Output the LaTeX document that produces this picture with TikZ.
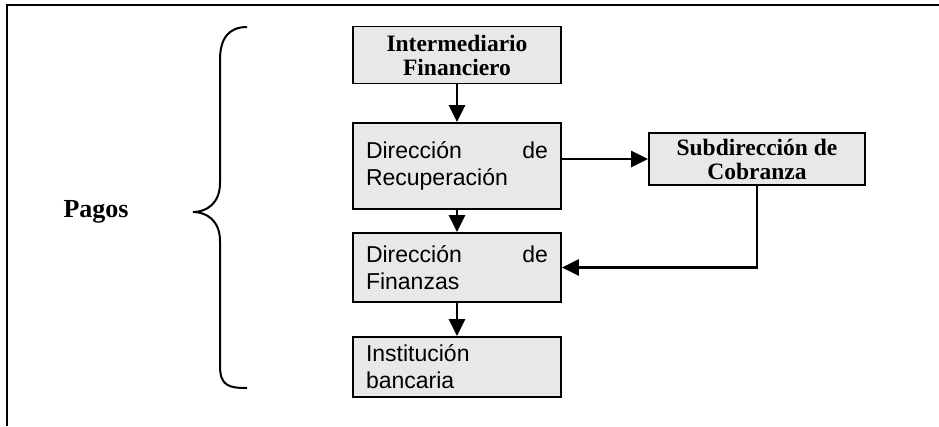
\documentclass[tikz,border=0pt]{standalone}
\usepackage{fontspec}
\setmainfont{Liberation Serif}
\setsansfont{Liberation Sans}
\usetikzlibrary{arrows.meta}
\tikzset{
  box/.style={draw=black, line width=1.8pt, fill=gray!18, inner sep=0pt, minimum width=#1},
  sbox/.style={box=208pt, font=\sffamily\fontsize{23}{27}\selectfont, text width=182pt, align=left},
  bbox/.style={font=\bfseries\fontsize{23.5}{24}\selectfont, align=center},
  arr/.style={line width=2.6pt, -{Triangle[length=17pt,width=16pt]}},
  frame/.style={line width=2pt}
}
\begin{document}
\begin{tikzpicture}[x=1pt,y=-1pt]
\useasboundingbox (0,0) rectangle (939,426);
\coordinate (fTR) at (939,5);
\coordinate (fTL) at (7,5);
\coordinate (fBL) at (7,426);
\draw[frame] (fTR) -- (fTL) -- (fBL);

\node[font=\bfseries\fontsize{26}{28}\selectfont] (pagos) at (96,212) {Pagos};
\draw[line width=2pt] (247,27) .. controls (229,27) and (220,38) .. (220,60) -- (220,183)
  .. controls (220,203) and (207,212) .. (193,212)
  .. controls (207,212) and (220,221) .. (220,241) -- (220,366)
  .. controls (220,386) and (229,388) .. (247,388);

\node[box=208pt, minimum height=57pt, bbox] (im) at (457,55) {Intermediario\\Financiero};
\node[sbox, minimum height=86pt] (dr) at (457,166) {\hbox to 182pt{Dirección\hfill de}\\Recuperación};
\node[box=216pt, minimum height=52pt, bbox] (sc) at (757,159) {Subdirección de\\Cobranza};
\node[sbox, minimum height=69pt] (df) at (457,267.5) {\hbox to 182pt{Dirección\hfill de}\\Finanzas};
\node[sbox, minimum height=60pt] (ib) at (457,367) {Institución\\bancaria};

\draw[arr] (im.south) -- (dr.north);
\draw[arr] (dr.south) -- (df.north);
\draw[arr] (dr.east |- sc.west) -- (sc.west);
\draw[arr] (sc.south) |- (df.east);
\draw[arr] (df.south) -- (ib.north);
\end{tikzpicture}
\end{document}
